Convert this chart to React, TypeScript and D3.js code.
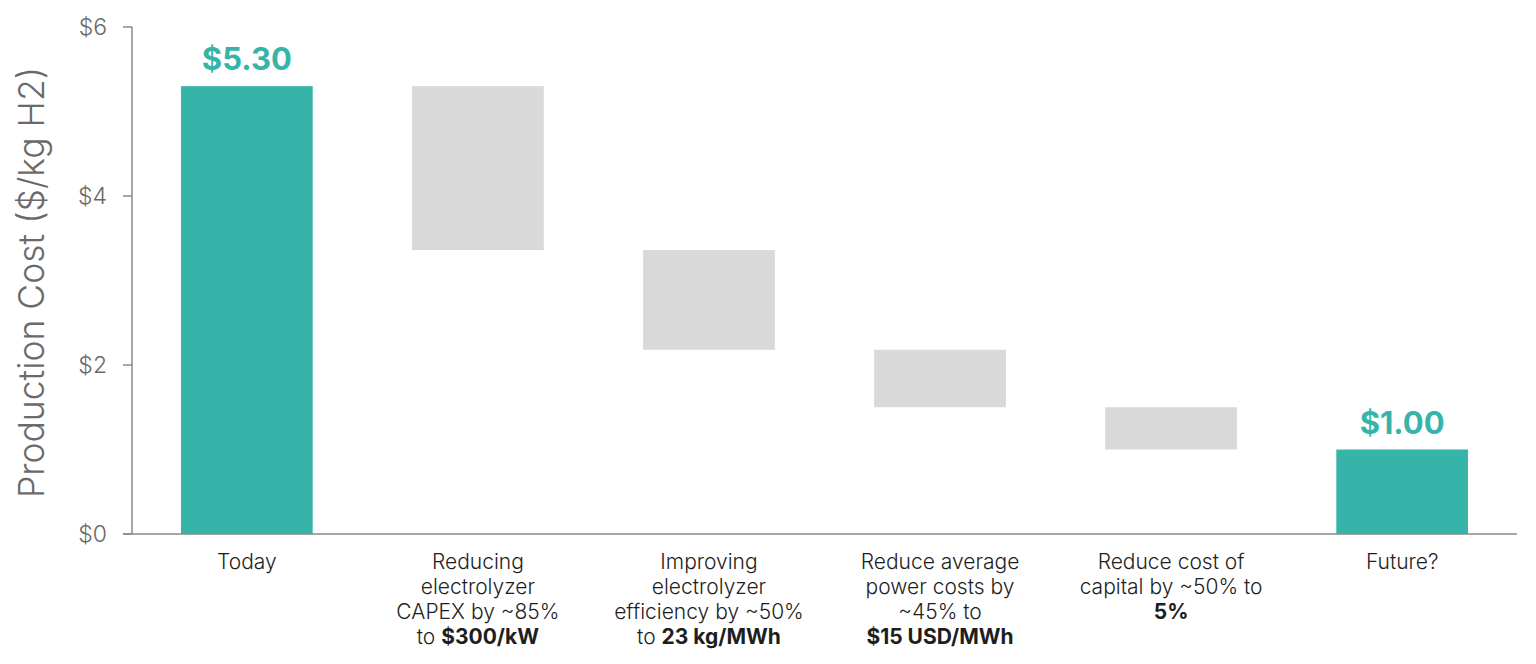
import React from "react";
import * as d3 from "d3";

const categories = ["Today", "CAPEX", "Efficiency", "Power", "Capital", "Future"];
const categoryLabels: string[][] = [
  ["Today"],
  ["Reducing", "electrolyzer", "CAPEX by ~85%", "to **$300/kW**"],
  ["Improving", "electrolyzer", "efficiency by ~50%", "to **23 kg/MWh**"],
  ["Reduce average", "power costs by", "~45% to", "**$15 USD/MWh**"],
  ["Reduce cost of", "capital by ~50% to", "**5%**"],
  ["Future?"],
];
// waterfall: start (top) and end (bottom) values
const barStarts = [5.3, 5.3, 3.36, 2.18, 1.5, 1.0];
const barEnds = [0, 3.36, 2.18, 1.5, 1.0, 0];
const totalFlags = [true, false, false, false, false, true];
const valueLabels = ["$5.30", "", "", "", "", "$1.00"];
const yTicks = [0, 2, 4, 6];
const yTickLabels = ["$0", "$2", "$4", "$6"];
const yTitle = "Production Cost ($/kg H2)";

const W = 1536;
const H = 664;
const TEAL = "#37B4A9";
const GREY = "#D9D9D9";
const FONT = "Inter, 'Noto Sans', sans-serif";

function renderLine(line: string) {
  const parts = line.split("**");
  return parts.map((p, i) =>
    p ? (
      <tspan key={i} fontWeight={i % 2 === 1 ? 700 : 300}>
        {p}
      </tspan>
    ) : null
  );
}

export default function App() {
  const x = d3
    .scaleBand<string>()
    .domain(categories)
    .range([132, 1517])
    .paddingInner(0.43)
    .paddingOuter(0.212);
  const y = d3.scaleLinear().domain([0, 6]).range([534, 27]);

  return (
    <svg
      width={W}
      height={H}
      style={{ position: "absolute", left: 0, top: 0, background: "#fff" }}
      fontFamily={FONT}
    >
      {/* bars */}
      {categories.map((c, i) => (
        <rect
          key={c}
          x={x(c)}
          y={y(barStarts[i])}
          width={x.bandwidth()}
          height={y(barEnds[i]) - y(barStarts[i])}
          fill={totalFlags[i] ? TEAL : GREY}
        />
      ))}
      {/* value labels */}
      {categories.map((c, i) =>
        valueLabels[i] ? (
          <text
            key={"v" + c}
            x={(x(c) as number) + x.bandwidth() / 2}
            y={y(barStarts[i]) - 16}
            textAnchor="middle"
            fontSize={31}
            fontWeight={700}
            fill={TEAL}
          >
            {valueLabels[i]}
          </text>
        ) : null
      )}
      {/* y axis */}
      <line x1={132} x2={132} y1={y(6)} y2={y(0)} stroke="#8a8a8a" strokeWidth={1.5} />
      <line x1={123} x2={1517} y1={y(0)} y2={y(0)} stroke="#8a8a8a" strokeWidth={1.5} />
      {yTicks.map((t, i) => (
        <g key={t}>
          <line x1={123} x2={132} y1={y(t)} y2={y(t)} stroke="#8a8a8a" strokeWidth={1.5} />
          <text
            x={107}
            y={y(t)}
            dy="0.35em"
            textAnchor="end"
            fontSize={23}
            fontWeight={300}
            fill="#6a6a6a"
          >
            {yTickLabels[i]}
          </text>
        </g>
      ))}
      <text
        transform={`translate(44, ${(y(0) + y(6)) / 2 + 2}) rotate(-90)`}
        textAnchor="middle"
        fontSize={35.5}
        fontWeight={300}
        fill="#6a6a6a"
      >
        {yTitle}
      </text>
      {/* category labels */}
      {categories.map((c, i) => (
        <text
          key={"c" + c}
          x={(x(c) as number) + x.bandwidth() / 2}
          y={569}
          textAnchor="middle"
          fontSize={21}
          fill="#1e1e1e"
        >
          {categoryLabels[i].map((l, j) => (
            <tspan key={j} x={(x(c) as number) + x.bandwidth() / 2} dy={j === 0 ? 0 : 25}>
              {renderLine(l)}
            </tspan>
          ))}
        </text>
      ))}
    </svg>
  );
}
